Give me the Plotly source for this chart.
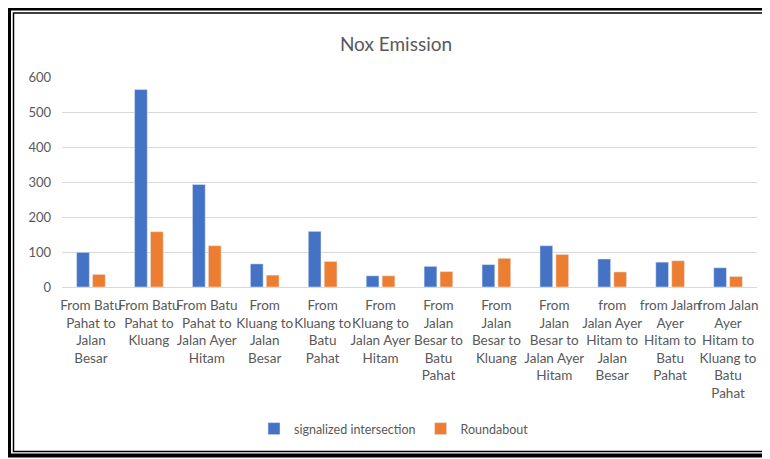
import plotly.graph_objects as go

categories = [
    "From Batu<br>Pahat to<br>Jalan<br>Besar",
    "From Batu<br>Pahat to<br>Kluang",
    "From Batu<br>Pahat to<br>Jalan Ayer<br>Hitam",
    "From<br>Kluang to<br>Jalan<br>Besar",
    "From<br>Kluang to<br>Batu<br>Pahat",
    "From<br>Kluang to<br>Jalan Ayer<br>Hitam",
    "From<br>Jalan<br>Besar to<br>Batu<br>Pahat",
    "From<br>Jalan<br>Besar to<br>Kluang",
    "From<br>Jalan<br>Besar to<br>Jalan Ayer<br>Hitam",
    "from<br>Jalan Ayer<br>Hitam to<br>Jalan<br>Besar",
    "from Jalan<br>Ayer<br>Hitam to<br>Batu<br>Pahat",
    "from Jalan<br>Ayer<br>Hitam to<br>Kluang to<br>Batu<br>Pahat",
]
signalized = [99, 564, 293, 66, 159, 32, 59, 64, 118, 80, 71, 55]
roundabout = [36, 158, 118, 34, 73, 32, 44, 82, 93, 43, 75, 30]
y_ticks = [0, 100, 200, 300, 400, 500, 600]

# page body adds an 8px offset; work in screenshot pixels and subtract it
OFF = 8
W, H = 770 - OFF, 459 - OFF
L, R, T, B = 62 - OFF, 757 - OFF, 77 - OFF, 287 - OFF

def px_x(px):
    return (px - OFF - L) / (R - L)

def px_y(py):
    return (B - (py - OFF)) / (B - T)

FONT = "Lato, Carlito, Calibri, sans-serif"
GRAY = "#595959"

fig = go.Figure()
fig.add_trace(go.Bar(name="signalized intersection", x=list(range(len(categories))),
                     y=signalized, marker_color="#4472C4"))
fig.add_trace(go.Bar(name="Roundabout", x=list(range(len(categories))),
                     y=roundabout, marker_color="#ED7D31"))

shapes = [
    dict(type="rect", xref="paper", yref="paper",
         x0=px_x(9), x1=px_x(767.5), y0=px_y(8.5), y1=px_y(455.5),
         line=dict(color="black", width=4), layer="above"),
    dict(type="rect", xref="paper", yref="paper",
         x0=px_x(13.5), x1=px_x(763.5), y0=px_y(13), y1=px_y(451.5),
         line=dict(color="black", width=1.5), layer="above"),
]

fig.update_layout(
    width=W, height=H,
    margin=dict(l=L, r=W - R, t=T, b=H - B, pad=0),
    paper_bgcolor="white", plot_bgcolor="white",
    font=dict(family=FONT, color=GRAY, size=13),
    title=dict(text="Nox Emission", x=px_x(396), xref="paper", xanchor="center",
               y=1 - (44 - OFF) / H, yanchor="middle",
               font=dict(family=FONT, size=19, color=GRAY)),
    barmode="group", bargap=0.45, bargroupgap=0.2,
    showlegend=True,
    legend=dict(orientation="h", x=px_x(394), xanchor="center",
                y=px_y(429), yanchor="middle",
                font=dict(family=FONT, size=12.5, color=GRAY),
                bgcolor="rgba(0,0,0,0)"),
    shapes=shapes,
    xaxis=dict(tickmode="array", tickvals=list(range(len(categories))),
               ticktext=categories, range=[-0.5, len(categories) - 0.5],
               showgrid=False, showline=True, linecolor="#D9D9D9", linewidth=1,
               ticks="", tickangle=0, ticklabelstandoff=6,
               tickfont=dict(family=FONT, size=13.5, color=GRAY)),
    yaxis=dict(range=[0, 600], tickvals=y_ticks, showgrid=True,
               gridcolor="#D9D9D9", gridwidth=1, zeroline=False,
               showline=False, ticks="", ticklabelstandoff=10,
               tickfont=dict(family=FONT, size=13, color=GRAY)),
)

fig.write_html("out.html")
